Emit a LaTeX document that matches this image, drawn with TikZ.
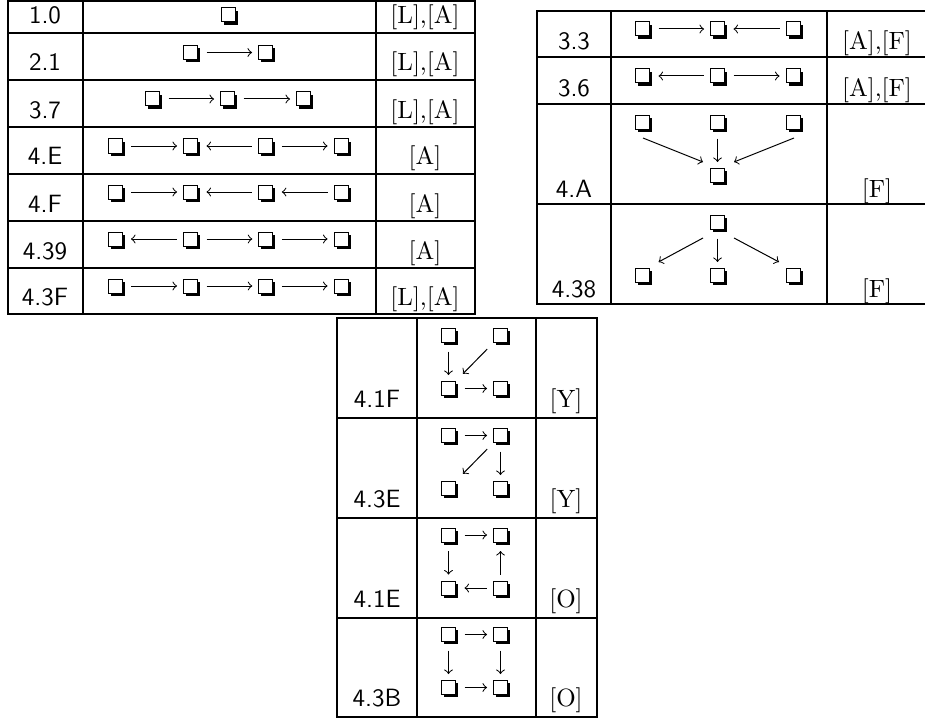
\documentclass[tikz,border=0pt]{standalone}
\usetikzlibrary{shadows,calc}

\tikzset{
  sqbox/.style={draw, fill=white, line width=0.4pt, minimum size=5.6pt, inner sep=0pt,
    drop shadow={shadow xshift=1.05pt, shadow yshift=-1.05pt, fill=black, opacity=1}},
  link/.style={->, line width=0.4pt},
  arr/.style={link, shorten <=3.4pt, shorten >=2.4pt},
  rowlbl/.style={font=\sffamily, anchor=base},
  reflbl/.style={anchor=base},
  tabrule/.style={line width=0.8pt},
  tabthick/.style={line width=1.1pt}
}

\begin{document}
\begin{tikzpicture}[x=0.4pt,y=-0.4pt]
\useasboundingbox (0,0) rectangle (925,719);

% left table
\draw [tabrule] (8,1) rectangle (475,314);
\draw [tabthick] (8,1) -- (8,314);
\draw [tabrule] (83,1) -- (83,314);
\draw [tabrule] (376,1) -- (376,314);
\draw [tabrule] (8,33) -- (475,33);
\draw [tabrule] (8,80) -- (475,80);
\draw [tabthick] (8,127) -- (475,127);
\draw [tabthick] (8,174) -- (475,174);
\draw [tabrule] (8,221) -- (475,221);
\draw [tabrule] (8,268) -- (475,268);

\node [rowlbl] (t10) at (45,24) {1.0};
\node [rowlbl] (t21) at (45,71) {2.1};
\node [rowlbl] (t37) at (45,118) {3.7};
\node [rowlbl] (t4E) at (45,165) {4.E};
\node [rowlbl] (t4F) at (45,212) {4.F};
\node [rowlbl] (t439) at (45,259) {4.39};
\node [rowlbl] (t43F) at (45,305) {4.3F};

\node [reflbl] (s10) at (425,24) {[L],[A]};
\node [reflbl] (s21) at (425,71) {[L],[A]};
\node [reflbl] (s37) at (425,118) {[L],[A]};
\node [reflbl] (s4E) at (425,165) {[A]};
\node [reflbl] (s4F) at (425,212) {[A]};
\node [reflbl] (s439) at (425,259) {[A]};
\node [reflbl] (s43F) at (425,305) {[L],[A]};

\node [sqbox] (p1) at (228.5,15) {};

\node [sqbox] (q1) at (190.5,52.5) {};
\node [sqbox] (q2) at (265.5,52.5) {};
\draw [arr] (q1) -- (q2);

\node [sqbox] (h1) at (152.5,99) {};
\node [sqbox] (h2) at (227.5,99) {};
\node [sqbox] (h3) at (303.5,99) {};
\draw [arr] (h1) -- (h2);
\draw [arr] (h2) -- (h3);

\node [sqbox] (e1) at (115,146) {};
\node [sqbox] (e2) at (190.5,146) {};
\node [sqbox] (e3) at (265.8,146) {};
\node [sqbox] (e4) at (341,146) {};
\draw [arr] (e1) -- (e2);
\draw [arr,<-] (e2) -- (e3);
\draw [arr] (e3) -- (e4);

\node [sqbox] (f1) at (115,192) {};
\node [sqbox] (f2) at (190.5,192) {};
\node [sqbox] (f3) at (265.8,192) {};
\node [sqbox] (f4) at (341,192) {};
\draw [arr] (f1) -- (f2);
\draw [arr,<-] (f2) -- (f3);
\draw [arr,<-] (f3) -- (f4);

\node [sqbox] (g1) at (115,239) {};
\node [sqbox] (g2) at (190.5,239) {};
\node [sqbox] (g3) at (265.8,239) {};
\node [sqbox] (g4) at (341,239) {};
\draw [arr,<-] (g1) -- (g2);
\draw [arr] (g2) -- (g3);
\draw [arr] (g3) -- (g4);

\node [sqbox] (k1) at (115,286) {};
\node [sqbox] (k2) at (190.5,286) {};
\node [sqbox] (k3) at (265.8,286) {};
\node [sqbox] (k4) at (341,286) {};
\draw [arr] (k1) -- (k2);
\draw [arr] (k2) -- (k3);
\draw [arr] (k3) -- (k4);

% right table
\draw [tabrule] (925,11) -- (537,11) -- (537,304) -- (925,304);
\draw [tabrule] (611,11) -- (611,304);
\draw [tabrule] (827,11) -- (827,304);
\draw [tabrule] (537,57) -- (925,57);
\draw [tabrule] (537,104) -- (925,104);
\draw [tabrule] (537,204) -- (925,204);

\node [rowlbl] (t33) at (574,50) {3.3};
\node [rowlbl] (t36) at (574,97) {3.6};
\node [rowlbl] (t4A) at (574,197) {4.A};
\node [rowlbl] (t438) at (574,297) {4.38};

\node [reflbl] (s33) at (877,50) {[A],[F]};
\node [reflbl] (s36) at (877,97) {[A],[F]};
\node [reflbl] (s4A) at (877,197) {[F]};
\node [reflbl] (s438) at (877,297) {[F]};

\node [sqbox] (u1) at (642.5,29) {};
\node [sqbox] (u2) at (717.5,29) {};
\node [sqbox] (u3) at (793,29) {};
\draw [arr] (u1) -- (u2);
\draw [arr,<-] (u2) -- (u3);

\node [sqbox] (v1) at (642.5,76) {};
\node [sqbox] (v2) at (717.5,76) {};
\node [sqbox] (v3) at (793,76) {};
\draw [arr,<-] (v1) -- (v2);
\draw [arr] (v2) -- (v3);

\node [sqbox] (aL) at (642.5,122.5) {};
\node [sqbox] (aM) at (717.5,122.5) {};
\node [sqbox] (aR) at (793,122.5) {};
\node [sqbox] (aB) at (717.5,175.5) {};
\draw [link] ($(aL.south)+(0.5,8)$) -- ($(aB.north west)+(-7,-6)$);
\draw [arr] (aM) -- (aB);
\draw [link] ($(aR.south)+(1,8)$) -- ($(aB.north east)+(9,-6)$);

\node [sqbox] (oT) at (717.5,222.5) {};
\node [sqbox] (oL) at (642.5,275.5) {};
\node [sqbox] (oM) at (717.5,275.5) {};
\node [sqbox] (oR) at (793,275.5) {};
\draw [link] ($(oT.south west)+(-7,8)$) -- ($(oL.north)+(16,-6)$);
\draw [arr] (oT) -- (oM);
\draw [link] ($(oT.south east)+(9,8)$) -- ($(oR.north)+(-14,-6)$);

% bottom table
\draw [tabrule] (337,318) rectangle (597,717);
\draw [tabrule] (417,318) -- (417,717);
\draw [tabrule] (536,318) -- (536,717);
\draw [tabrule] (337,418) -- (597,418);
\draw [tabrule] (337,518) -- (597,518);
\draw [tabrule] (337,618) -- (597,618);

\node [rowlbl] (t41F) at (377,407) {4.1F};
\node [rowlbl] (t43E) at (377,507) {4.3E};
\node [rowlbl] (t41E) at (377,607) {4.1E};
\node [rowlbl] (t43B) at (377,706) {4.3B};

\node [reflbl] (s41F) at (566,407) {[Y]};
\node [reflbl] (s43E) at (566,507) {[Y]};
\node [reflbl] (s41E) at (566,607) {[O]};
\node [reflbl] (s43B) at (566,706) {[O]};

\node [sqbox] (w1) at (448.5,335.5) {};
\node [sqbox] (w2) at (500.5,335.5) {};
\node [sqbox] (w3) at (448.5,388.5) {};
\node [sqbox] (w4) at (500.5,388.5) {};
\draw [arr] (w1) -- (w3);
\draw [arr,shorten >=4pt] (w2) -- (w3);
\draw [arr] (w3) -- (w4);

\node [sqbox] (x1) at (448.5,435.5) {};
\node [sqbox] (x2) at (500.5,435.5) {};
\node [sqbox] (x3) at (448.5,488.5) {};
\node [sqbox] (x4) at (500.5,488.5) {};
\draw [arr] (x1) -- (x2);
\draw [arr] (x2) -- (x4);
\draw [arr,shorten >=4pt] (x2) -- (x3);

\node [sqbox] (y1) at (448.5,535) {};
\node [sqbox] (y2) at (500.5,535) {};
\node [sqbox] (y3) at (448.5,588) {};
\node [sqbox] (y4) at (500.5,588) {};
\draw [arr] (y1) -- (y2);
\draw [arr] (y1) -- (y3);
\draw [arr,<-] (y2) -- (y4);
\draw [arr,<-] (y3) -- (y4);

\node [sqbox] (z1) at (448.5,634.5) {};
\node [sqbox] (z2) at (500.5,634.5) {};
\node [sqbox] (z3) at (448.5,687.5) {};
\node [sqbox] (z4) at (500.5,687.5) {};
\draw [arr] (z1) -- (z2);
\draw [arr] (z1) -- (z3);
\draw [arr] (z2) -- (z4);
\draw [arr] (z3) -- (z4);

\end{tikzpicture}
\end{document}
